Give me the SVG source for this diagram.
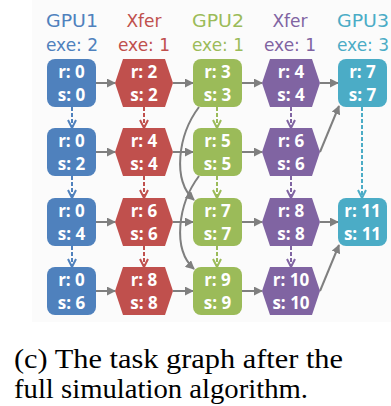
<svg xmlns="http://www.w3.org/2000/svg" width="391" height="406" viewBox="0 0 391 406">
<defs>
<style>
.hdr{font-family:"DejaVu Sans",sans-serif;font-size:17px;text-anchor:middle}
.lbl{font-family:"Open Sans","Liberation Sans",sans-serif;font-weight:bold;font-size:17px;fill:#fff;text-anchor:middle}
.cap{font-family:"Liberation Serif","Times New Roman",serif;font-size:28px;fill:#000}
.h{stroke:#7f7f7f;stroke-width:2;fill:none;marker-end:url(#ag)}
.d{stroke-width:2;stroke-dasharray:4 2;fill:none}
</style>
<marker id="ag" viewBox="0 0 10 10" refX="9" refY="5" markerWidth="9" markerHeight="9" markerUnits="userSpaceOnUse" orient="auto"><path d="M0,0 L10,5 L0,10 z" fill="#7f7f7f"/></marker>
<marker id="cb" viewBox="0 0 10 10" refX="9" refY="5" markerWidth="10" markerHeight="10" markerUnits="userSpaceOnUse" orient="auto"><path d="M1,1 L9,5 L1,9" fill="none" stroke="#4f81bd" stroke-width="2"/></marker>
<marker id="cr" viewBox="0 0 10 10" refX="9" refY="5" markerWidth="10" markerHeight="10" markerUnits="userSpaceOnUse" orient="auto"><path d="M1,1 L9,5 L1,9" fill="none" stroke="#c0504d" stroke-width="2"/></marker>
<marker id="cg" viewBox="0 0 10 10" refX="9" refY="5" markerWidth="10" markerHeight="10" markerUnits="userSpaceOnUse" orient="auto"><path d="M1,1 L9,5 L1,9" fill="none" stroke="#9bbb59" stroke-width="2"/></marker>
<marker id="cp" viewBox="0 0 10 10" refX="9" refY="5" markerWidth="10" markerHeight="10" markerUnits="userSpaceOnUse" orient="auto"><path d="M1,1 L9,5 L1,9" fill="none" stroke="#8064a2" stroke-width="2"/></marker>
<marker id="cc" viewBox="0 0 10 10" refX="9" refY="5" markerWidth="10" markerHeight="10" markerUnits="userSpaceOnUse" orient="auto"><path d="M1,1 L9,5 L1,9" fill="none" stroke="#4bacc6" stroke-width="2"/></marker>
</defs>
<rect x="0" y="0" width="391" height="406" fill="#fff"/>
<rect x="32" y="0" width="359" height="322" fill="#fbfbfb"/>

<g id="headers">
<text class="hdr" x="72" y="27" fill="#4f81bd" textLength="52" lengthAdjust="spacingAndGlyphs">GPU1</text>
<text class="hdr" x="72" y="51" fill="#4f81bd">exe: 2</text>
<text class="hdr" x="144" y="27" fill="#c0504d">Xfer</text>
<text class="hdr" x="144" y="51" fill="#c0504d">exe: 1</text>
<text class="hdr" x="218" y="27" fill="#9bbb59" textLength="52" lengthAdjust="spacingAndGlyphs">GPU2</text>
<text class="hdr" x="218" y="51" fill="#9bbb59">exe: 1</text>
<text class="hdr" x="290" y="27" fill="#8064a2">Xfer</text>
<text class="hdr" x="290" y="51" fill="#8064a2">exe: 1</text>
<text class="hdr" x="363" y="27" fill="#4bacc6" textLength="52" lengthAdjust="spacingAndGlyphs">GPU3</text>
<text class="hdr" x="363" y="51" fill="#4bacc6">exe: 3</text>
</g>

<g id="connectors">
<path class="h" d="M96,83 H115"/>
<path class="h" d="M173,83 H193"/>
<path class="h" d="M242,83 H262"/>
<path class="h" d="M320,83 H338"/>
<path class="h" d="M96,152 H115"/>
<path class="h" d="M173,152 H193"/>
<path class="h" d="M242,152 H262"/>
<path class="h" d="M320,152 L339,106"/>
<path class="h" d="M96,222 H115"/>
<path class="h" d="M173,222 H193"/>
<path class="h" d="M242,222 H262"/>
<path class="h" d="M320,222 H338"/>
<path class="h" d="M96,291 H115"/>
<path class="h" d="M173,291 H193"/>
<path class="h" d="M242,291 H262"/>
<path class="h" d="M320,291 L339,245"/>
<path class="h" d="M199,107 C178,135 172,180 194,200"/>
<path class="h" d="M199,176 C178,204 172,249 194,269"/>
<path class="d" stroke="#4f81bd" marker-end="url(#cb)" d="M72,107 V128"/>
<path class="d" stroke="#4f81bd" marker-end="url(#cb)" d="M72,176 V198"/>
<path class="d" stroke="#4f81bd" marker-end="url(#cb)" d="M72,246 V267"/>
<path class="d" stroke="#c0504d" marker-end="url(#cr)" d="M144,107 V128"/>
<path class="d" stroke="#c0504d" marker-end="url(#cr)" d="M144,176 V198"/>
<path class="d" stroke="#c0504d" marker-end="url(#cr)" d="M144,246 V267"/>
<path class="d" stroke="#9bbb59" marker-end="url(#cg)" d="M217,107 V128"/>
<path class="d" stroke="#9bbb59" marker-end="url(#cg)" d="M217,176 V198"/>
<path class="d" stroke="#9bbb59" marker-end="url(#cg)" d="M217,246 V267"/>
<path class="d" stroke="#8064a2" marker-end="url(#cp)" d="M291,107 V128"/>
<path class="d" stroke="#8064a2" marker-end="url(#cp)" d="M291,176 V198"/>
<path class="d" stroke="#8064a2" marker-end="url(#cp)" d="M291,246 V267"/>
<path class="d" stroke="#4bacc6" marker-end="url(#cc)" d="M362,107 V198"/>
</g>

<g id="gpu1_1"><rect x="47" y="59" width="49" height="48" rx="8" fill="#4f81bd"/><text class="lbl" x="71.5" y="78">r: 0</text><text class="lbl" x="71.5" y="101">s: 0</text></g>
<g id="gpu1_2"><rect x="47" y="128" width="49" height="48" rx="8" fill="#4f81bd"/><text class="lbl" x="71.5" y="147">r: 0</text><text class="lbl" x="71.5" y="170">s: 2</text></g>
<g id="gpu1_3"><rect x="47" y="198" width="49" height="48" rx="8" fill="#4f81bd"/><text class="lbl" x="71.5" y="217">r: 0</text><text class="lbl" x="71.5" y="240">s: 4</text></g>
<g id="gpu1_4"><rect x="47" y="267" width="49" height="48" rx="8" fill="#4f81bd"/><text class="lbl" x="71.5" y="286">r: 0</text><text class="lbl" x="71.5" y="309">s: 6</text></g>

<g id="xfer1_1"><polygon points="115,83 123,59 165,59 173,83 165,107 123,107" fill="#c0504d"/><text class="lbl" x="144" y="78">r: 2</text><text class="lbl" x="144" y="101">s: 2</text></g>
<g id="xfer1_2"><polygon points="115,152 123,128 165,128 173,152 165,176 123,176" fill="#c0504d"/><text class="lbl" x="144" y="147">r: 4</text><text class="lbl" x="144" y="170">s: 4</text></g>
<g id="xfer1_3"><polygon points="115,222 123,198 165,198 173,222 165,246 123,246" fill="#c0504d"/><text class="lbl" x="144" y="217">r: 6</text><text class="lbl" x="144" y="240">s: 6</text></g>
<g id="xfer1_4"><polygon points="115,291 123,267 165,267 173,291 165,315 123,315" fill="#c0504d"/><text class="lbl" x="144" y="286">r: 8</text><text class="lbl" x="144" y="309">s: 8</text></g>

<g id="gpu2_1"><rect x="193" y="59" width="49" height="48" rx="8" fill="#9bbb59"/><text class="lbl" x="217.5" y="78">r: 3</text><text class="lbl" x="217.5" y="101">s: 3</text></g>
<g id="gpu2_2"><rect x="193" y="128" width="49" height="48" rx="8" fill="#9bbb59"/><text class="lbl" x="217.5" y="147">r: 5</text><text class="lbl" x="217.5" y="170">s: 5</text></g>
<g id="gpu2_3"><rect x="193" y="198" width="49" height="48" rx="8" fill="#9bbb59"/><text class="lbl" x="217.5" y="217">r: 7</text><text class="lbl" x="217.5" y="240">s: 7</text></g>
<g id="gpu2_4"><rect x="193" y="267" width="49" height="48" rx="8" fill="#9bbb59"/><text class="lbl" x="217.5" y="286">r: 9</text><text class="lbl" x="217.5" y="309">s: 9</text></g>

<g id="xfer2_1"><polygon points="262,83 270,59 312,59 320,83 312,107 270,107" fill="#8064a2"/><text class="lbl" x="291" y="78">r: 4</text><text class="lbl" x="291" y="101">s: 4</text></g>
<g id="xfer2_2"><polygon points="262,152 270,128 312,128 320,152 312,176 270,176" fill="#8064a2"/><text class="lbl" x="291" y="147">r: 6</text><text class="lbl" x="291" y="170">s: 6</text></g>
<g id="xfer2_3"><polygon points="262,222 270,198 312,198 320,222 312,246 270,246" fill="#8064a2"/><text class="lbl" x="291" y="217">r: 8</text><text class="lbl" x="291" y="240">s: 8</text></g>
<g id="xfer2_4"><polygon points="262,291 270,267 312,267 320,291 312,315 270,315" fill="#8064a2"/><text class="lbl" x="291" y="286">r: 10</text><text class="lbl" x="291" y="309">s: 10</text></g>

<g id="gpu3_1"><rect x="338" y="59" width="49" height="48" rx="8" fill="#4bacc6"/><text class="lbl" x="362.5" y="78">r: 7</text><text class="lbl" x="362.5" y="101">s: 7</text></g>
<g id="gpu3_3"><rect x="338" y="198" width="49" height="48" rx="8" fill="#4bacc6"/><text class="lbl" x="362.5" y="217">r: 11</text><text class="lbl" x="362.5" y="240">s: 11</text></g>

<g id="caption">
<text class="cap" x="14" y="368" textLength="329" lengthAdjust="spacingAndGlyphs">(c) The task graph after the</text>
<text class="cap" x="14" y="398" textLength="294" lengthAdjust="spacingAndGlyphs">full simulation algorithm.</text>
</g>
</svg>
